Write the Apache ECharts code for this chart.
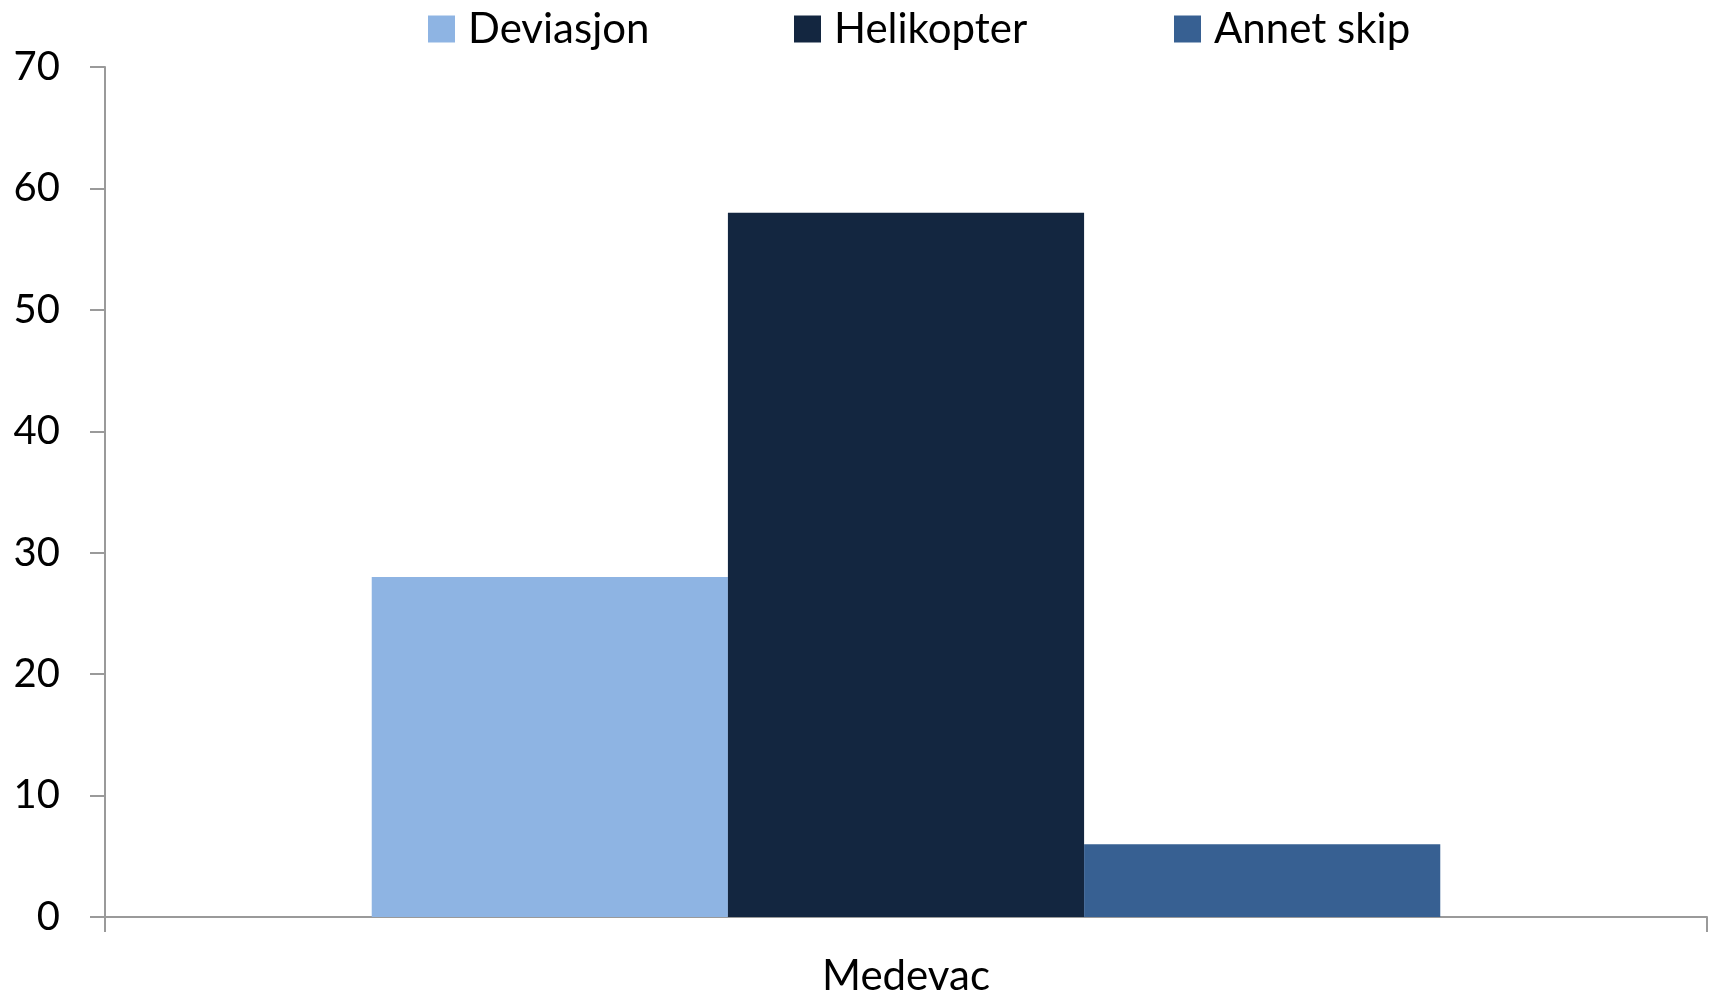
<!DOCTYPE html>
<html>
<head>
<meta charset="utf-8">
<script src="https://cdn.jsdelivr.net/npm/echarts@6/dist/echarts.min.js"></script>
<style>
  html, body { margin: 0; padding: 0; background: #ffffff; }
  #chart { width: 1715px; height: 1000px; }
</style>
</head>
<body>
<div id="chart"></div>
<script>
// Category and series values
const categories = ['Medevac'];
const deviasjon = [28];
const helikopter = [58];
const annetSkip = [6];
const seriesNames = ['Deviasjon', 'Helikopter', 'Annet skip'];
const seriesColors = ['#8EB4E3', '#132640', '#376092'];

const FONT = 'Lato';
const chart = echarts.init(document.getElementById('chart'), null, { renderer: 'canvas' });

// One legend block per series so each item sits at its own offset
const legendLefts = [423, 789, 1169];
const legends = seriesNames.map((name, i) => ({
  data: [name],
  left: legendLefts[i],
  top: 3,
  itemWidth: 27,
  itemHeight: 27,
  icon: 'rect',
  textStyle: { fontFamily: FONT, fontSize: 42, color: '#000', padding: [0, 0, 0, 8] }
}));

const seriesData = [deviasjon, helikopter, annetSkip];

chart.setOption({
  animation: false,
  legend: legends,
  grid: { left: 105, right: 8, top: 67, bottom: 83, containLabel: false },
  xAxis: {
    type: 'category',
    data: categories,
    boundaryGap: true,
    axisLine: { show: true, lineStyle: { color: '#9a9a9a', width: 2 } },
    axisTick: { show: true, length: 15, lineStyle: { color: '#9a9a9a', width: 2 } },
    axisLabel: { fontFamily: FONT, fontSize: 42, color: '#000', margin: 38 },
    splitLine: { show: false }
  },
  yAxis: {
    type: 'value',
    min: 0,
    max: 70,
    interval: 10,
    axisLine: { show: true, lineStyle: { color: '#9a9a9a', width: 2 } },
    axisTick: { show: true, length: 15, lineStyle: { color: '#9a9a9a', width: 2 } },
    axisLabel: { fontFamily: FONT, fontSize: 40, color: '#000', margin: 45 },
    splitLine: { show: false }
  },
  series: seriesNames.map((name, i) => ({
    name: name,
    type: 'bar',
    data: seriesData[i],
    barGap: '0%',
    barCategoryGap: '33.3%',
    itemStyle: { color: seriesColors[i] }
  }))
});
</script>
</body>
</html>
